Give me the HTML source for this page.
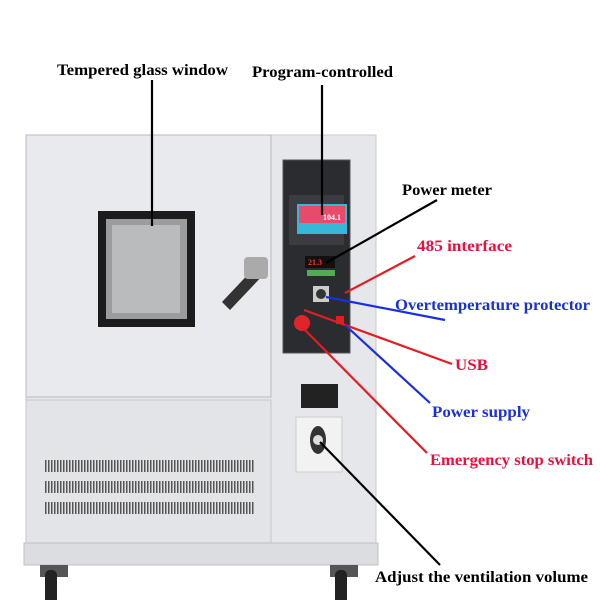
<!DOCTYPE html>
<html><head><meta charset="utf-8"><style>
body{margin:0;background:#fff}
svg{display:block}
text{font-family:"Liberation Serif",serif;font-weight:bold;font-size:15.5px}
</style></head><body>
<svg width="600" height="600" viewBox="0 0 600 600">
<defs>
<pattern id="vent" width="3" height="14" patternUnits="userSpaceOnUse"><rect width="1.5" height="14" fill="#555"/></pattern>
</defs>
<rect x="26" y="135" width="350" height="410" fill="#e6e7ea" stroke="#c9cacd"/>
<rect x="26" y="135" width="245" height="262" fill="#e9eaed" stroke="#bbb"/>
<rect x="26" y="400" width="245" height="143" fill="#e3e4e7" stroke="#c7c7c7"/>
<rect x="24" y="543" width="354" height="22" fill="#dcdde0" stroke="#c0c0c0"/>
<rect x="98" y="211" width="97" height="116" fill="#1c1c1c"/>
<rect x="106" y="219" width="81" height="100" fill="#9a9c9e"/>
<rect x="112" y="225" width="68" height="88" fill="#b9bbbd"/>
<path d="M222 302 L256 266 L266 272 L230 310 Z" fill="#333"/>
<rect x="244" y="257" width="24" height="22" rx="4" fill="#aaa"/>
<rect x="45" y="460" width="210" height="12" fill="url(#vent)"/>
<rect x="45" y="481" width="210" height="12" fill="url(#vent)"/>
<rect x="45" y="502" width="210" height="12" fill="url(#vent)"/>
<rect x="283" y="160" width="67" height="193" fill="#2a2c30" stroke="#555"/>
<rect x="289" y="195" width="55" height="50" fill="#3a3c40"/>
<rect x="297" y="204" width="50" height="30" fill="#38b8d8"/>
<rect x="299" y="206" width="46" height="17" fill="#e84a6a"/>
<text x="323" y="220" style="font-size:8px;fill:#fff">104.1</text>
<rect x="305" y="256" width="30" height="12" fill="#111"/>
<text x="308" y="265" style="font-size:8px;fill:#f33">21.3</text>
<rect x="307" y="270" width="28" height="6" fill="#5a5"/>
<rect x="313" y="286" width="16" height="16" fill="#ccc"/>
<circle cx="321" cy="294" r="5" fill="#333"/>
<circle cx="302" cy="323" r="8" fill="#e0242a"/>
<rect x="336" y="316" width="8" height="8" fill="#e02020"/>
<rect x="301" y="384" width="37" height="24" fill="#222"/>
<rect x="296" y="417" width="46" height="55" fill="#f2f2f2" stroke="#ccc"/>
<ellipse cx="318" cy="440" rx="8" ry="14" fill="#333"/>
<circle cx="318" cy="440" r="5" fill="#ddd"/>
<rect x="40" y="565" width="28" height="12" fill="#555"/>
<rect x="45" y="570" width="12" height="34" rx="5" fill="#222"/>
<rect x="330" y="565" width="28" height="12" fill="#555"/>
<rect x="335" y="570" width="12" height="34" rx="5" fill="#222"/>
<g stroke-width="2.2" fill="none">
<line x1="152" y1="80" x2="152" y2="226" stroke="#000"/>
<line x1="322" y1="85" x2="322" y2="215" stroke="#000"/>
<line x1="437" y1="200" x2="326" y2="263" stroke="#000"/>
<line x1="415" y1="256" x2="345" y2="293" stroke="#e41c24"/>
<line x1="445" y1="320" x2="326" y2="297" stroke="#1a2fe0"/>
<line x1="452" y1="364" x2="304" y2="310" stroke="#e41c24"/>
<line x1="430" y1="403" x2="345" y2="325" stroke="#1a2fe0"/>
<line x1="427" y1="453" x2="302" y2="327" stroke="#e41c24"/>
<line x1="440" y1="565" x2="320" y2="442" stroke="#000"/>
</g>
<g lengthAdjust="spacingAndGlyphs">
<text x="57" y="75" textLength="171" lengthAdjust="spacingAndGlyphs">Tempered glass window</text>
<text x="252" y="77" textLength="141" lengthAdjust="spacingAndGlyphs">Program-controlled</text>
<text x="402" y="195" textLength="90" lengthAdjust="spacingAndGlyphs">Power meter</text>
<text x="417" y="251" fill="#e8103c" textLength="95" lengthAdjust="spacingAndGlyphs">485 interface</text>
<text x="395" y="310" fill="#1a2fe0" textLength="195" lengthAdjust="spacingAndGlyphs">Overtemperature protector</text>
<text x="455" y="370" fill="#e8103c" textLength="33" lengthAdjust="spacingAndGlyphs">USB</text>
<text x="432" y="417" fill="#1a2fe0" textLength="98" lengthAdjust="spacingAndGlyphs">Power supply</text>
<text x="430" y="465" fill="#e8103c" textLength="163" lengthAdjust="spacingAndGlyphs">Emergency stop switch</text>
<text x="375" y="582" textLength="213" lengthAdjust="spacingAndGlyphs">Adjust the ventilation volume</text>
</g>
</svg>
</body></html>
